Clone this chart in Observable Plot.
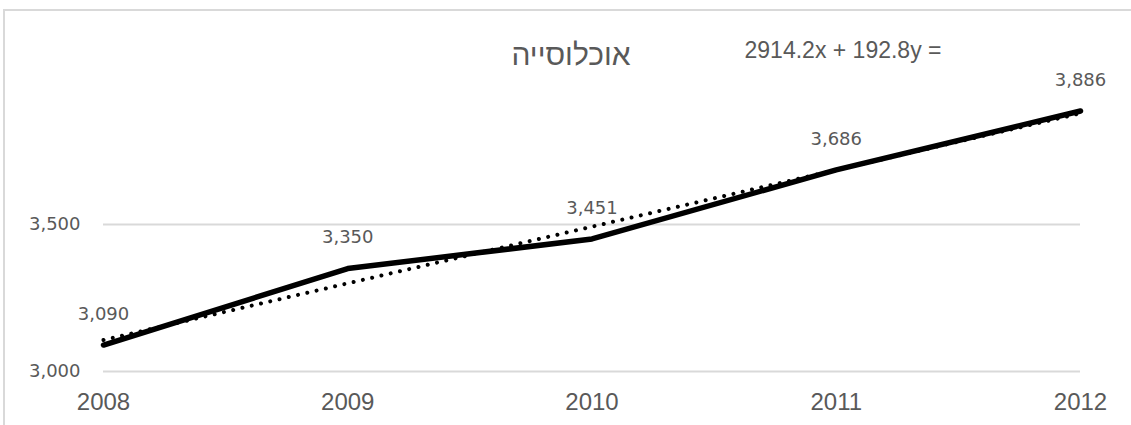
<!DOCTYPE html>
<html>
<head>
<meta charset="utf-8">
<script src="https://cdn.jsdelivr.net/npm/d3@7"></script>
<script src="https://cdn.jsdelivr.net/npm/@observablehq/plot@0.6"></script>
<style>
  html, body { margin: 0; padding: 0; background: #fff; overflow: hidden; }
  #wrap { position: relative; width: 1131px; height: 425px; }
  #border { position: absolute; left: 3px; top: 9px; width: 1140px; height: 430px;
            border: 2px solid #d9d9d9; box-sizing: border-box; pointer-events: none; }
</style>
</head>
<body>
<div id="wrap"><div id="chart"></div><div id="border"></div></div>
<script>
const years = [2008, 2009, 2010, 2011, 2012];
const population = [3090, 3350, 3451, 3686, 3886];
const trendSlope = 192.8;
const trendIntercept = 2914.2;
const yTicks = [3000, 3500];
const title = "אוכלוסייה";
const equation = "2914.2x + 192.8y =";

const data = years.map((year, i) => ({year, value: population[i]}));
const trend = years.map((year, i) => ({year, value: trendIntercept + trendSlope * (i + 1)}));

const gray = "#595959";
const chart = Plot.plot({
  width: 1131,
  height: 425,
  marginLeft: 103,
  marginRight: 51,
  marginTop: 77,
  marginBottom: 54,
  style: {background: "transparent", overflow: "visible"},
  x: {domain: [2008, 2012]},
  y: {domain: [3000, 4000]},
  marks: [
    Plot.ruleY(yTicks, {stroke: "#d9d9d9", strokeWidth: 2}),
    Plot.axisY({ticks: yTicks, tickSize: 0, tickPadding: 23, tickFormat: d3.format(","),
      fontSize: 18, fontFamily: "DejaVu Sans", fill: gray, label: null}),
    Plot.axisX({ticks: years, tickSize: 0, tickPadding: 21, tickFormat: "d",
      fontSize: 24, fontFamily: "Liberation Sans, Arial", fill: gray, label: null}),
    Plot.line(data, {x: "year", y: "value", stroke: "#000", strokeWidth: 5.5,
      strokeLinejoin: "round"}),
    Plot.line(trend, {x: "year", y: "value", stroke: "#000", strokeWidth: 4,
      strokeDasharray: "0.01 9.5", strokeLinecap: "round"}),
    Plot.text(data, {x: "year", y: "value", text: d => d3.format(",")(d.value), dy: -31,
      fontSize: 18, fontFamily: "DejaVu Sans", fill: gray}),
    Plot.text([title], {frameAnchor: "top", lineAnchor: "middle", dx: -21, dy: -22,
      fontSize: 30, fontFamily: "Liberation Sans, Arial", fill: gray}),
    Plot.text([equation], {frameAnchor: "top", lineAnchor: "middle", dx: 251, dy: -27,
      fontSize: 23, fontFamily: "Liberation Sans, Arial", fill: gray, textAnchor: "middle"})
  ]
});
document.getElementById("chart").appendChild(chart);
</script>
</body>
</html>
